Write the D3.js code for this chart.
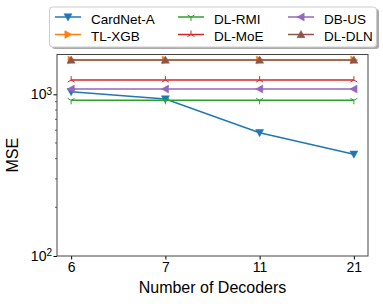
<!DOCTYPE html>
<html>
<head>
<meta charset="utf-8">
<script src="https://cdn.jsdelivr.net/npm/d3@7"></script>
<style>
  body { margin: 0; background: #fff; }
  text { font-family: "Liberation Sans", Arial, sans-serif; }
</style>
</head>
<body>
<div id="chart"></div>
<script>
// data
var decoders = ["6", "7", "11", "21"];
var cardnetA = [1038, 935, 579, 426];
var tlXgb = [1630, 1630, 1630, 1630];
var dlRmi = [918, 918, 918, 918];
var dlMoe = [1225, 1225, 1225, 1225];
var dbUs = [1078, 1078, 1078, 1078];
var dlDln = [1630, 1630, 1630, 1630];
var yTicks = [100, 1000];
var yMinor = [200, 300, 400, 500, 600, 700, 800, 900];

var series = [
  { name: "CardNet-A", values: cardnetA, color: "#1f77b4", marker: "down" },
  { name: "TL-XGB", values: tlXgb, color: "#ff7f0e", marker: "right" },
  { name: "DL-RMI", values: dlRmi, color: "#2ca02c", marker: "tri_down" },
  { name: "DL-MoE", values: dlMoe, color: "#d62728", marker: "tri_up" },
  { name: "DB-US", values: dbUs, color: "#9467bd", marker: "left" },
  { name: "DL-DLN", values: dlDln, color: "#8c564b", marker: "up" }
];

var margin = { top: 54.5, right: 15, bottom: 48, left: 57 },
    width = 383 - margin.left - margin.right,
    height = 304 - margin.top - margin.bottom;

var root = d3.select("#chart").append("svg")
  .attr("width", 383)
  .attr("height", 304);

var svg = root.append("g")
  .attr("transform", "translate(" + margin.left + "," + margin.top + ")");

var x = d3.scalePoint()
  .domain(decoders)
  .range([0, width])
  .padding(0.15);

var y = d3.scaleLog()
  .domain([100, 1763])
  .range([height, 0]);

// axes
var xAxis = svg.append("g")
  .attr("transform", "translate(0," + height + ")")
  .call(d3.axisBottom(x).tickSize(3.5).tickPadding(3));
xAxis.select(".domain").remove();
xAxis.selectAll("text").style("font-size", "14px").attr("fill", "#000");

var yAxis = svg.append("g")
  .call(d3.axisLeft(y).tickValues(yTicks).tickSize(3.5).tickFormat(""));
yAxis.select(".domain").remove();

// minor ticks
svg.append("g").selectAll("line")
  .data(yMinor)
  .enter().append("line")
  .attr("x1", -2).attr("x2", 0)
  .attr("y1", d => y(d)).attr("y2", d => y(d))
  .attr("stroke", "#000").attr("stroke-width", 0.6);

// tick labels 10^n
yTicks.forEach(function(t) {
  var lab = svg.append("text")
    .attr("x", -5)
    .attr("y", y(t))
    .attr("dy", "0.35em")
    .attr("text-anchor", "end")
    .style("font-size", "14px");
  lab.append("tspan").text("10");
  lab.append("tspan").attr("dy", "-0.45em").style("font-size", "10px").text(Math.round(Math.log10(t)));
});

// frame
svg.append("rect")
  .attr("width", width).attr("height", height)
  .attr("fill", "none").attr("stroke", "#444").attr("stroke-width", 1);

// markers
function markerPath(type, s) {
  if (type == "down") return "M" + (-s) + "," + (-s * 0.8) + "L" + s + "," + (-s * 0.8) + "L0," + s + "Z";
  if (type == "up") return "M" + (-s) + "," + (s * 0.8) + "L" + s + "," + (s * 0.8) + "L0," + (-s) + "Z";
  if (type == "left") return "M" + (s * 0.8) + "," + (-s) + "L" + (s * 0.8) + "," + s + "L" + (-s) + ",0Z";
  if (type == "right") return "M" + (-s * 0.8) + "," + (-s) + "L" + (-s * 0.8) + "," + s + "L" + s + ",0Z";
  if (type == "tri_down") return "M0,0L0," + s + "M0,0L" + (-s * 0.87) + "," + (-s * 0.5) + "M0,0L" + (s * 0.87) + "," + (-s * 0.5);
  if (type == "tri_up") return "M0,0L0," + (-s) + "M0,0L" + (-s * 0.87) + "," + (s * 0.5) + "M0,0L" + (s * 0.87) + "," + (s * 0.5);
  return "";
}
function isLineMarker(type) { return type == "tri_down" || type == "tri_up"; }

var line = d3.line()
  .x((d, i) => x(decoders[i]))
  .y(d => y(d));

var plot = svg.selectAll(".series")
  .data(series)
  .enter().append("g")
  .attr("class", "series");

plot.append("path")
  .attr("d", d => line(d.values))
  .attr("fill", "none")
  .attr("stroke", d => d.color)
  .attr("stroke-width", 1.5);

plot.each(function(s) {
  d3.select(this).selectAll("path.m")
    .data(s.values)
    .enter().append("path")
    .attr("class", "m")
    .attr("transform", (d, i) => "translate(" + x(decoders[i]) + "," + y(d) + ")")
    .attr("d", markerPath(s.marker, 4))
    .attr("fill", isLineMarker(s.marker) ? "none" : s.color)
    .attr("stroke", s.color)
    .attr("stroke-width", isLineMarker(s.marker) ? 1 : 0.5);
});

// axis titles
root.append("text")
  .attr("x", margin.left + width / 2)
  .attr("y", 293)
  .attr("text-anchor", "middle")
  .style("font-size", "16px")
  .text("Number of Decoders");

root.append("text")
  .attr("transform", "translate(18," + (margin.top + height / 2) + ") rotate(-90)")
  .attr("text-anchor", "middle")
  .style("font-size", "16px")
  .text("MSE");

// legend
var lg = root.append("g");
lg.append("rect")
  .attr("x", 52).attr("y", 9).attr("width", 327).attr("height", 40)
  .attr("rx", 3).attr("fill", "#555").attr("opacity", 0.5);
lg.append("rect")
  .attr("x", 49.5).attr("y", 7).attr("width", 327).attr("height", 40)
  .attr("rx", 3).attr("fill", "#fff").attr("stroke", "#ccc").attr("stroke-width", 1);

var colX = [55, 178, 288];
var rowY = [17, 34.5];
var items = lg.selectAll(".item")
  .data(series)
  .enter().append("g")
  .attr("transform", (d, i) => "translate(" + colX[Math.floor(i / 2)] + "," + rowY[i % 2] + ")");
items.append("line")
  .attr("x1", 0).attr("x2", 26)
  .attr("stroke", d => d.color).attr("stroke-width", 1.5);
items.append("path")
  .attr("transform", "translate(13,0)")
  .attr("d", d => markerPath(d.marker, 4))
  .attr("fill", d => isLineMarker(d.marker) ? "none" : d.color)
  .attr("stroke", d => d.color)
  .attr("stroke-width", d => isLineMarker(d.marker) ? 1 : 0.5);
items.append("text")
  .attr("x", 36).attr("dy", "0.5em")
  .style("font-size", "13.5px")
  .text(d => d.name);
</script>
</body>
</html>
